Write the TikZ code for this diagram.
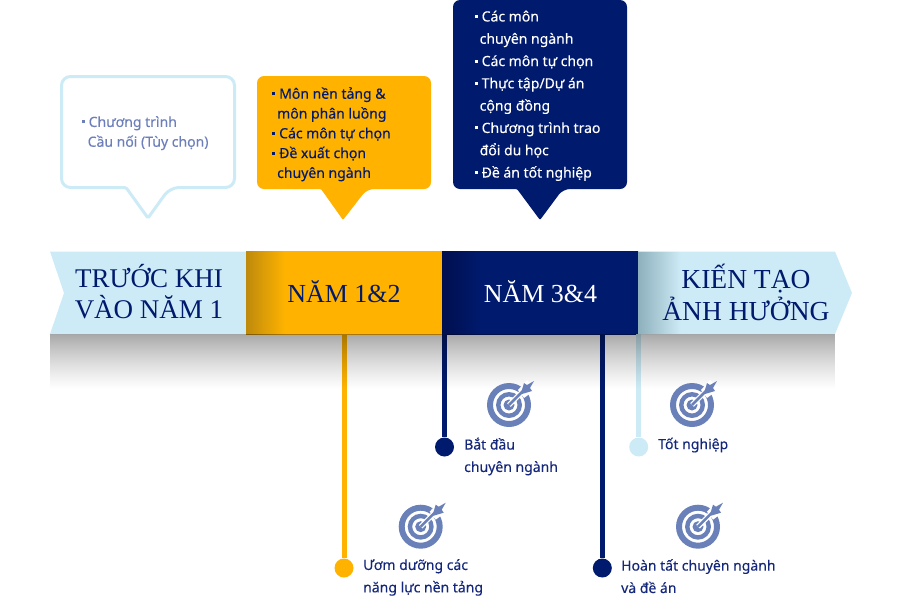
\documentclass[tikz,border=0pt]{standalone}
\usepackage{fontspec}
\setmainfont{Liberation Serif}
\newfontfamily\labelfont[FakeBold=0.25]{Noto Sans}
\definecolor{navy}{HTML}{001A6E}
\definecolor{navytext}{HTML}{14277A}
\definecolor{amber}{HTML}{FFB300}
\definecolor{amberdark}{HTML}{BE8A0C}
\definecolor{sky}{HTML}{CDEBF6}
\definecolor{skydark}{HTML}{8DB0BC}
\definecolor{navydark}{HTML}{000F4E}
\definecolor{iconblue}{HTML}{6A80B8}
\definecolor{softtext}{HTML}{6D7FBB}
\pgfdeclarehorizontalshading{amberband}{100bp}{color(0bp)=(amberdark); color(25bp)=(amberdark); color(35bp)=(amber); color(100bp)=(amber)}
\pgfdeclarehorizontalshading{navyband}{100bp}{color(0bp)=(navydark); color(25bp)=(navydark); color(35bp)=(navy); color(100bp)=(navy)}
\pgfdeclarehorizontalshading{skyband}{100bp}{color(0bp)=(skydark); color(25bp)=(skydark); color(35bp)=(sky); color(100bp)=(sky)}
\newcommand{\blt}{\makebox[7pt][l]{\raisebox{3.5pt}{\rule{3pt}{3pt}}}}
\tikzset{
  x=1pt,y=-1pt,
  band/.style={minimum width=196pt,minimum height=82.5pt,inner sep=0pt,outer sep=0pt,anchor=north west},
  headtext/.style={font=\fontsize{27}{31}\selectfont,text=navy,align=center,inner sep=0pt},
  calltext/.style={font=\labelfont\fontsize{14}{19.8}\selectfont,align=left,inner sep=0pt,anchor=north west},
  goaltext/.style={font=\labelfont\fontsize{14}{22.4}\selectfont,text=navytext,align=left,inner sep=0pt,anchor=north west},
  stem/.style={line width=5pt},
  dot/.style={circle,minimum size=19pt,inner sep=0pt},
  targetpic/.pic={
    \fill[iconblue,even odd rule] (0,0) circle[radius=22] (0,0) circle[radius=16];
    \fill[iconblue,even odd rule] (0,0) circle[radius=13] (0,0) circle[radius=8.5];
    \fill[white] (9,-15) -- (18,-25) -- (27,-16) -- (15,-7) -- cycle;
    \fill[iconblue] (0,0) circle[radius=5.5];
    \draw[white,line width=5pt] (0,0) -- (16,-16);
    \draw[iconblue,line width=2.5pt] (0,0) -- (17,-17);
    \fill[iconblue] (12,-12) -- (15,-22) -- (18,-20) -- (25,-24) -- (21,-17) -- (23,-14) -- (13,-11) -- cycle;
  }
}
\begin{document}
\begin{tikzpicture}
\useasboundingbox (0,0) rectangle (900,600);
% bands
\fill[sky] (50,251.5) -- (246,251.5) -- (246,334) -- (50,334) -- (64,293) -- cycle;
\node[band,shading=amberband] (yr12) at (246,251.5) {};
\node[band,shading=navyband] (yr34) at (442,251.5) {};
\path[shading=skyband] (638,251.5) -- (835,251.5) -- (852,293) -- (835,334) -- (638,334) -- cycle;
\coordinate (bandend) at (638,334);
% goal stems and dots
\node[dot,fill=amber] (d1) at (344,568) {};
\node[dot,fill=navy] (d2) at (444.5,447) {};
\node[dot,fill=navy] (d3) at (602.3,568) {};
\node[dot,fill=sky] (d4) at (638.7,447) {};
\draw[stem,amber] (d1 |- yr12.south) -- (d1);
\draw[stem,navy] (d2 |- yr34.south) -- (d2);
\draw[stem,navy] (d3 |- yr34.south) -- (d3);
\draw[stem,sky] (d4 |- bandend) -- (d4);
% shadow
\foreach \i in {0,...,55}
  \fill[black,opacity={0.34*(1-\i/55)*(1-\i/55)*0.3+0.34*(1-\i/55)*0.7}] (50,334+\i) rectangle (835,335+\i);
% band labels
\node[headtext] (h1) at (149,291.7) {TRƯỚC KHI\\VÀO NĂM 1};
\node[headtext,font=\fontsize{26}{31}\selectfont] (h2) at (344,291.5) {NĂM 1\&2};
\node[headtext,text=white,font=\fontsize{26}{31}\selectfont] (h3) at (540.5,291.5) {NĂM 3\&4};
\node[headtext,font=\fontsize{27.5}{32}\selectfont] (h4) at (746,292.5) {KIẾN TẠO\\ẢNH HƯỞNG};
% callouts
\draw[sky,line width=3pt,rounded corners=9pt,fill=white] (61.5,76.5) -- (234.5,76.5) -- (234.5,187.5) -- (170,187.5) [rounded corners=1.5pt] -- (148,218) -- (126,187.5) [rounded corners=9pt] -- (61.5,187.5) -- cycle;
\fill[amber,rounded corners=7pt] (257,76) -- (431,76) -- (431,189) -- (367,189) [rounded corners=1pt] -- (343,220) -- (321,189) [rounded corners=7pt] -- (257,189) -- cycle;
\fill[navy,rounded corners=7pt] (453,0) -- (627,0) -- (627,189) -- (563,189) [rounded corners=1pt] -- (540,220) -- (517,189) [rounded corners=7pt] -- (453,189) -- cycle;
\node[calltext,text=softtext] (c1) at (81.5,116) {\blt Chương trình\\\hspace{6pt}Cầu nối (Tùy chọn)};
\node[calltext,text=navy] (c2) at (272,87) {\blt Môn nền tảng \&\\\hspace{5pt}môn phân luồng\\\blt Các môn tự chọn\\\blt Đề xuất chọn\\\hspace{5pt}chuyên ngành};
\node[calltext,text=white,font=\labelfont\fontsize{14}{22.3}\selectfont] (c3) at (474.5,10.5) {\blt Các môn\\\hspace{5pt}chuyên ngành\\\blt Các môn tự chọn\\\blt Thực tập/Dự án\\\hspace{5pt}cộng đồng\\\blt Chương trình trao\\\hspace{5pt}đổi du học\\\blt Đề án tốt nghiệp};
% goal labels
\node[goaltext] (g1) at (363,559) {Ươm dưỡng các\\năng lực nền tảng};
\node[goaltext] (g2) at (464,437.5) {Bắt đầu\\chuyên ngành};
\node[goaltext] (g3) at (621,559) {Hoàn tất chuyên ngành\\và đề án};
\node[goaltext] (g4) at (658,437.5) {Tốt nghiệp};
% icons
\pic at (509,405) {targetpic};
\pic at (420.7,526.7) {targetpic};
\pic at (692,405) {targetpic};
\pic at (698,526.7) {targetpic};
\end{tikzpicture}
\end{document}
